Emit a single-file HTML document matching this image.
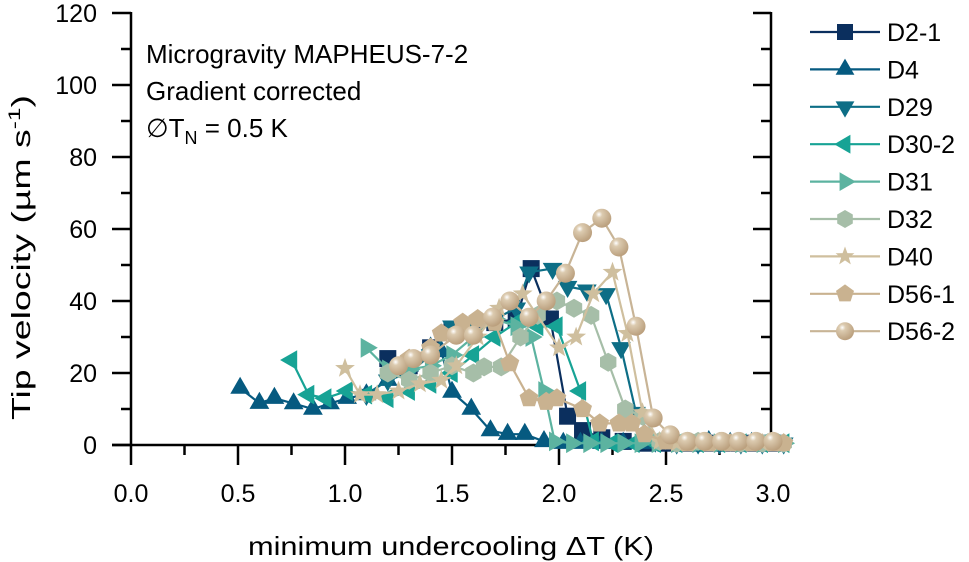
<!DOCTYPE html>
<html><head><meta charset="utf-8">
<style>
html,body{margin:0;padding:0;background:#fff;}
svg{display:block;font-family:"Liberation Sans",Arial,sans-serif;}
</style></head>
<body>
<svg id="chart" width="969" height="562" viewBox="0 0 969 562"></svg>
<script>
const xTicks=[0,0.5,1.0,1.5,2.0,2.5,3.0];
const xTickLabels=["0.0","0.5","1.0","1.5","2.0","2.5","3.0"];
const yTicks=[0,20,40,60,80,100,120];
const yTickLabels=["0","20","40","60","80","100","120"];
const seriesNames=["D2-1","D4","D29","D30-2","D31","D32","D40","D56-1","D56-2"];
const xD21=[1.2,1.3,1.4,1.5,1.6,1.7,1.8,1.87,1.96,2.04,2.11,2.2,2.3,2.4,2.5,2.6,2.68,2.76,2.84,2.92,3.0];
const yD21=[24,22,27,32,33,34,35,49,35,8,4,2,1,0.5,0.5,0.5,0.5,0.5,0.5,0.5,0.5];
const xD4=[0.51,0.6,0.67,0.76,0.85,0.93,1.01,1.1,1.2,1.3,1.4,1.45,1.5,1.59,1.68,1.76,1.84,1.93,2.02,2.1,2.2,2.3,2.4,2.5,2.6,2.7,2.8,2.9,3.0];
const yD4=[15.8,11.6,13,11.5,10,11.5,13,14,18,22,27,26,14.7,10,4,3,3,1,0.5,0.5,0.5,0.5,0.5,0.5,0.5,1,0.5,0.5,0.5];
const xD29=[1.1,1.2,1.3,1.4,1.5,1.6,1.7,1.8,1.86,1.97,2.04,2.13,2.22,2.29,2.36,2.45,2.55,2.65,2.75,2.85,2.95,3.05];
const yD29=[14,18,20,25,33,34,35,38,48,49,44,43,42,27,9,1,0.5,0.5,0.5,0.5,0.5,0.5];
const xD302=[0.75,0.83,0.91,1.01,1.1,1.2,1.3,1.4,1.5,1.6,1.7,1.8,1.9,1.99,2.1,2.16,2.25,2.35,2.45,2.55,2.65,2.75,2.85,2.95,3.05];
const yD302=[23.6,14,13,15,14,13,15,17,20,25,30,34,33,33,15,1,0.5,0.5,0.5,0.5,0.5,0.5,0.5,0.5,0.5];
const xD31=[1.1,1.2,1.3,1.4,1.5,1.6,1.7,1.8,1.87,1.93,1.98,2.06,2.14,2.22,2.3,2.38,2.46,2.55,2.65,2.75,2.85,2.95,3.05];
const yD31=[27,21,21,22,25,30,35,33,30,15,1,0.5,0.5,0.5,0.5,0.5,0.5,0.5,0.5,0.5,0.5,0.5,0.5];
const xD32=[1.2,1.3,1.4,1.5,1.6,1.65,1.73,1.82,1.9,1.99,2.07,2.15,2.23,2.31,2.39,2.47,2.55,2.65,2.75,2.85,2.95,3.05];
const yD32=[20,18,20,22,20,21.7,21.7,30,36,40,38,36,23,10,8,1,0.5,1,1,0.5,0.5,0.5];
const xD40=[1.0,1.07,1.15,1.25,1.35,1.45,1.52,1.62,1.72,1.83,2.0,2.08,2.16,2.25,2.32,2.39,2.47,2.55,2.65,2.75,2.85,2.95,3.05];
const yD40=[21.3,14,14,15,17,18,22,30,38,42,27,30,42,48,31,9,1,0.5,0.5,0.5,0.5,0.5,0.5];
const xD561=[1.3,1.4,1.45,1.55,1.62,1.7,1.77,1.86,1.94,1.99,2.11,2.19,2.28,2.34,2.4,2.5,2.6,2.7,2.8,2.9,3.0,3.05];
const yD561=[24,27,31,34,35,34,22.7,13,12,13,10,6,6,6,3,1,0.5,0.5,0.5,0.5,0.5,0.5];
const xD562=[1.25,1.32,1.4,1.52,1.6,1.69,1.77,1.86,1.94,2.03,2.11,2.2,2.28,2.36,2.44,2.52,2.6,2.68,2.76,2.84,2.92,3.0];
const yD562=[22,24,25,30.5,30.5,35.5,40,35.5,40,47.7,59,63,55,33,7.5,2.8,1,1,1,1,1,1];
const allX=[xD21,xD4,xD29,xD302,xD31,xD32,xD40,xD561,xD562];
const allY=[yD21,yD4,yD29,yD302,yD31,yD32,yD40,yD561,yD562];
const colors=["#0b2f5e","#065a80","#0d6e86","#17a395","#5cb3a0","#a6bea8","#cfbf9e","#c9b290","#c8b496"];
const shapes=["square","up","down","left","right","hex","star","pent","ball"];

const svg=document.getElementById('chart');
const NS="http://www.w3.org/2000/svg";
const X0=131,X1=773,Y0=445,Y1=13;
function sx(v){return X0+(v-0)/3.0*(X1-X0);}
function sy(v){return Y0-(v-0)/120*(Y0-Y1);}
function mk(tag,attrs,parent){const e=document.createElementNS(NS,tag);for(const k in attrs)e.setAttribute(k,attrs[k]);(parent||svg).appendChild(e);return e;}

const defs=mk('defs',{});
const rg=mk('radialGradient',{id:'ballg',cx:'0.35',cy:'0.3',r:'0.7'},defs);
mk('stop',{offset:'0','stop-color':'#ffffff'},rg);
mk('stop',{offset:'0.25','stop-color':'#dccbb0'},rg);
mk('stop',{offset:'1','stop-color':'#bba07e'},rg);

function marker(shape,cx,cy,col,parent,s){
  s=s||8;let e;
  if(shape==='square')e=mk('rect',{x:cx-s+1,y:cy-s+1,width:2*s-2,height:2*s-2,fill:col},parent);
  else if(shape==='ball')e=mk('circle',{cx:cx,cy:cy,r:s,fill:'url(#ballg)'},parent);
  else{
    let pts=[];
    const poly=(n,r,rot)=>{for(let i=0;i<n;i++){const a=rot+i*2*Math.PI/n;pts.push([cx+r*Math.cos(a),cy+r*Math.sin(a)]);}};
    if(shape==='up')poly(3,s*1.2,-Math.PI/2);
    if(shape==='down')poly(3,s*1.2,Math.PI/2);
    if(shape==='left')poly(3,s*1.2,Math.PI);
    if(shape==='right')poly(3,s*1.2,0);
    if(shape==='hex')poly(6,s,-Math.PI/2);
    if(shape==='pent')poly(5,s*1.05,-Math.PI/2);
    if(shape==='star'){for(let i=0;i<10;i++){const r=i%2?s*0.45:s*1.1;const a=-Math.PI/2+i*Math.PI/5;pts.push([cx+r*Math.cos(a),cy+r*Math.sin(a)]);}}
    e=mk('polygon',{points:pts.map(p=>p[0].toFixed(1)+','+p[1].toFixed(1)).join(' '),fill:col},parent);
  }
  return e;
}

const ax=mk('g',{});


mk('line',{x1:X0,y1:Y1-1,x2:X0,y2:Y0,stroke:'#000','stroke-width':2.5},ax);
mk('line',{x1:X1-2,y1:Y1-1,x2:X1-2,y2:Y0,stroke:'#000','stroke-width':2.5},ax);
mk('line',{x1:112,y1:Y0,x2:X1-2,y2:Y0,stroke:'#000','stroke-width':2.5},ax);
xTicks.forEach((t,i)=>{
  const x=sx(t);
  if(t<3.0)mk('line',{x1:x,y1:Y0,x2:x,y2:Y0+20,stroke:'#000','stroke-width':2.5},ax);
  if(i<xTicks.length-1){const xm=sx(t+0.25);mk('line',{x1:xm,y1:Y0,x2:xm,y2:Y0+10,stroke:'#000','stroke-width':2.5},ax);}
  const tx=mk('text',{x:x,y:502,'font-size':25,'text-anchor':'middle',fill:'#000'},ax);
  tx.textContent=xTickLabels[i];
  
  
});
yTicks.forEach((t,i)=>{
  const y=sy(t);
  mk('line',{x1:112,y1:y,x2:X0,y2:y,stroke:'#000','stroke-width':2.5},ax);
  mk('line',{x1:X1-20,y1:y,x2:X1-2,y2:y,stroke:'#000','stroke-width':2.5},ax);
  if(i<yTicks.length-1){const ym=sy(t+10);mk('line',{x1:121,y1:ym,x2:X0,y2:ym,stroke:'#000','stroke-width':2.5},ax);mk('line',{x1:X1-12,y1:ym,x2:X1-2,y2:ym,stroke:'#000','stroke-width':2.5},ax);}
  const ty=mk('text',{x:97,y:y+9,'font-size':25,'text-anchor':'end',fill:'#000'},ax);
  ty.textContent=yTickLabels[i];
  
  
});
const xl=mk('text',{x:248,y:555,'font-size':26,fill:'#000',textLength:406,lengthAdjust:'spacingAndGlyphs'});
xl.textContent='minimum undercooling ΔT (K)';


const yl=mk('text',{x:0,y:0,'font-size':26,fill:'#000',transform:'translate(30,420) rotate(-90)',textLength:325,lengthAdjust:'spacingAndGlyphs'});
yl.innerHTML='Tip velocity (µm s<tspan dy="-10" font-size="17">-1</tspan><tspan dy="10">)</tspan>';



const an=mk('g',{'font-size':26,fill:'#000'});


mk('text',{x:146,y:63},an).textContent='Microgravity MAPHEUS-7-2';
mk('text',{x:146,y:100},an).textContent='Gradient corrected';
const t3=mk('text',{x:146,y:137},an);
t3.innerHTML='∅T<tspan dy="7" font-size="18">N</tspan><tspan dy="-7"> = 0.5 K</tspan>';

allX.forEach((xs,si)=>{
  const g=mk('g',{});
  
  
  const ys=allY[si];
  mk('polyline',{points:xs.map((x,i)=>sx(x).toFixed(1)+','+sy(ys[i]).toFixed(1)).join(' '),fill:'none',stroke:colors[si],'stroke-width':2.2},g);
  xs.forEach((x,i)=>{
    const m=marker(shapes[si],sx(x),sy(ys[i]),colors[si],g,9.5);
    
    
  });
});

const lg=mk('g',{});


seriesNames.forEach((n,i)=>{
  const y=32+i*37.4;
  const e=mk('g',{},lg);
  
  
  mk('line',{x1:810,y1:y,x2:880,y2:y,stroke:colors[i],'stroke-width':2.2},e);
  marker(shapes[i],845,y,colors[i],e,9);
  const t=mk('text',{x:887,y:y+9,'font-size':25,fill:'#000'},e);
  t.textContent=n;
});
</script>
</body></html>
